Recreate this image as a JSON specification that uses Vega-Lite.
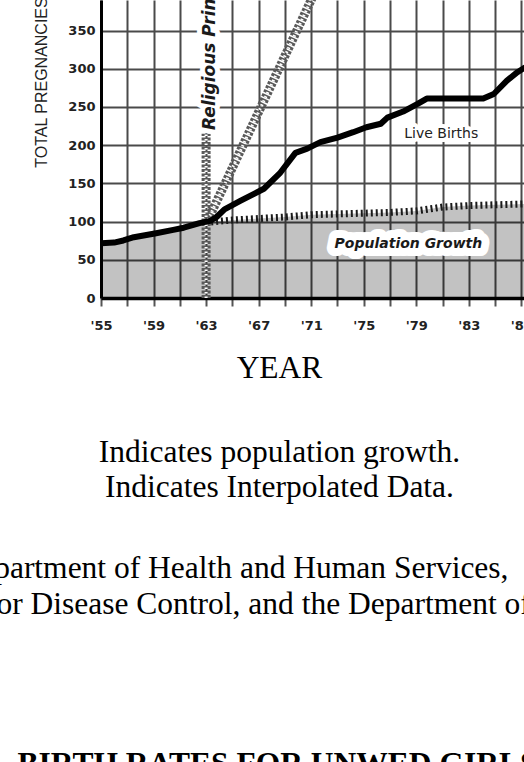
{
  "$schema": "https://vega.github.io/schema/vega-lite/v6.json",
  "width": 423,
  "height": 298,
  "autosize": {"type": "none"},
  "padding": {"left": 101, "top": 0, "right": 0, "bottom": 464},
  "background": "white",
  "config": {"view": {"stroke": null}},
  "datasets": {
    "births": [
      {"year": 1955.0, "value": 71.5}, {"year": 1956.0, "value": 72.5}, {"year": 1956.7, "value": 75.3},
      {"year": 1957.5, "value": 79.6}, {"year": 1959.2, "value": 84.8}, {"year": 1960.5, "value": 89.2},
      {"year": 1961.3, "value": 92}, {"year": 1962.5, "value": 98}, {"year": 1963.3, "value": 101},
      {"year": 1963.8, "value": 106}, {"year": 1964.4, "value": 116}, {"year": 1965.6, "value": 127},
      {"year": 1966.5, "value": 135}, {"year": 1967.4, "value": 143}, {"year": 1968.6, "value": 163},
      {"year": 1969.8, "value": 190}, {"year": 1970.7, "value": 195.5}, {"year": 1971.7, "value": 204},
      {"year": 1973.0, "value": 210}, {"year": 1974.2, "value": 217}, {"year": 1975.2, "value": 223.5},
      {"year": 1976.3, "value": 228}, {"year": 1976.8, "value": 236}, {"year": 1978.0, "value": 244},
      {"year": 1979.1, "value": 254}, {"year": 1979.8, "value": 261}, {"year": 1984.1, "value": 261},
      {"year": 1984.9, "value": 267}, {"year": 1985.9, "value": 284.5}, {"year": 1986.7, "value": 295.5},
      {"year": 1987.3, "value": 302}
    ],
    "pop": [
      {"year": 1955.0, "value": 71.5}, {"year": 1956.0, "value": 72.5}, {"year": 1956.7, "value": 75.3},
      {"year": 1957.5, "value": 79.6}, {"year": 1959.2, "value": 84.8}, {"year": 1960.5, "value": 89.2},
      {"year": 1961.3, "value": 92}, {"year": 1962.5, "value": 98}, {"year": 1963.0, "value": 99},
      {"year": 1965.0, "value": 102}, {"year": 1967.0, "value": 104}, {"year": 1969.0, "value": 106},
      {"year": 1971.0, "value": 109}, {"year": 1973.0, "value": 110}, {"year": 1975.0, "value": 111},
      {"year": 1977.0, "value": 112}, {"year": 1979.0, "value": 114}, {"year": 1981.0, "value": 119},
      {"year": 1983.0, "value": 121}, {"year": 1985.0, "value": 122}, {"year": 1987.2, "value": 123}
    ],
    "prayer": [
      {"seg": "vertical", "year": 1963.0, "value": 0}, {"seg": "vertical", "year": 1963.0, "value": 215},
      {"seg": "diagonal", "year": 1963.0, "value": 97}, {"seg": "diagonal", "year": 1971.3, "value": 401}
    ],
    "labels": [
      {"label": "Live Births", "year": 1980.9, "value": 214.6},
      {"label": "Population Growth", "year": 1978.4, "value": 70.7},
      {"label": "Religious Principles Removed", "year": 1963.3, "value": 220}
    ]
  },
  "resolve": {"axis": {"x": "independent"}},
  "layer": [
    {
      "data": {"name": "pop"},
      "mark": {"type": "area", "fill": "#000", "fillOpacity": 0.24},
      "encoding": {
        "x": {
          "field": "year", "type": "quantitative",
          "scale": {"domain": [1955, 1987.2], "nice": false, "zero": false},
          "axis": {
            "orient": "bottom",
            "values": [1955, 1957, 1959, 1961, 1963, 1965, 1967, 1969, 1971, 1973, 1975, 1977, 1979, 1981, 1983, 1985, 1987],
            "format": "d",
            "labelExpr": "(datum.value - 1955) % 4 == 0 ? \"'\" + substring(datum.label, 2) : ''",
            "grid": true, "gridColor": "#4a4a4a", "gridWidth": 2,
            "domainColor": "#000", "domainWidth": 3.5,
            "tickColor": "#555", "tickWidth": 2, "tickSize": 8,
            "labelFont": "DejaVu Sans", "labelFontWeight": "bold", "labelFontSize": 13, "labelColor": "#222",
            "labelPadding": 13, "labelFlush": false, "labelOverlap": false,
            "title": "YEAR", "titleFont": "Liberation Serif", "titleFontSize": 31.5, "titleFontWeight": "normal",
            "titleColor": "#000", "titleX": 178, "titleY": 79, "titleAlign": "center", "titleBaseline": "alphabetic",
            "titleAngle": 0, "titleLimit": 3000
          }
        },
        "y": {
          "field": "value", "type": "quantitative",
          "scale": {"domain": [0, 390], "nice": false},
          "axis": {
            "values": [0, 50, 100, 150, 200, 250, 300, 350],
            "grid": true, "gridColor": "#4a4a4a", "gridWidth": 2,
            "domainColor": "#000", "domainWidth": 3, "ticks": false,
            "labelFont": "DejaVu Sans", "labelFontWeight": "bold", "labelFontSize": 13, "labelColor": "#222",
            "labelPadding": 6,
            "title": "TOTAL PREGNANCIES", "titleFont": "Liberation Sans", "titleFontSize": 16, "titleFontWeight": "normal",
            "titleColor": "#222", "titleAngle": 270, "titleX": -59.5, "titleY": 82, "titleAlign": "center",
            "titleBaseline": "middle", "titleLimit": 3000
          }
        }
      }
    },
    {
      "data": {"name": "pop"},
      "transform": [{"filter": "datum.year >= 1963"}],
      "mark": {"type": "line", "stroke": "#1a1a1a", "strokeWidth": 7, "strokeDash": [2, 3]},
      "encoding": {
        "x": {
          "field": "year", "type": "quantitative",
          "axis": {
            "orient": "bottom", "labels": false, "ticks": false, "domain": false, "grid": false,
            "title": ["Indicates population growth.", "Indicates Interpolated Data."],
            "titleFont": "Liberation Serif", "titleFontSize": 31.5, "titleFontWeight": "normal", "titleColor": "#000",
            "titleX": 178, "titleY": 163, "titleAlign": "center", "titleBaseline": "alphabetic",
            "titleLineHeight": 35, "titleAngle": 0, "titleLimit": 3000
          }
        },
        "y": {"field": "value", "type": "quantitative"}
      }
    },
    {
      "data": {"name": "prayer"},
      "mark": {"type": "line", "stroke": "#5a5a5a", "strokeWidth": 9, "strokeDash": [3, 1.5], "clip": true},
      "encoding": {
        "x": {
          "field": "year", "type": "quantitative",
          "axis": {
            "orient": "bottom", "labels": false, "ticks": false, "domain": false, "grid": false,
            "title": "Department of Health and Human Services,",
            "titleFont": "Liberation Serif", "titleFontSize": 31.5, "titleFontWeight": "normal", "titleColor": "#000",
            "titleX": 407, "titleY": 279, "titleAlign": "right", "titleBaseline": "alphabetic",
            "titleAngle": 0, "titleLimit": 3000
          }
        },
        "y": {"field": "value", "type": "quantitative"},
        "detail": {"field": "seg"}
      }
    },
    {
      "data": {"name": "prayer"},
      "mark": {"type": "line", "stroke": "#fff", "strokeWidth": 3, "strokeDash": [1.5, 3], "clip": true},
      "encoding": {
        "x": {
          "field": "year", "type": "quantitative",
          "axis": {
            "orient": "bottom", "labels": false, "ticks": false, "domain": false, "grid": false,
            "title": "for Disease Control, and the Department of Commerce,",
            "titleFont": "Liberation Serif", "titleFontSize": 31.5, "titleFontWeight": "normal", "titleColor": "#000",
            "titleX": -115.6, "titleY": 315, "titleAlign": "left", "titleBaseline": "alphabetic",
            "titleAngle": 0, "titleLimit": 3000
          }
        },
        "y": {"field": "value", "type": "quantitative"},
        "detail": {"field": "seg"}
      }
    },
    {
      "data": {"name": "births"},
      "mark": {"type": "line", "stroke": "#000", "strokeWidth": 6, "strokeJoin": "round", "clip": true},
      "encoding": {
        "x": {
          "field": "year", "type": "quantitative",
          "axis": {
            "orient": "bottom", "labels": false, "ticks": false, "domain": false, "grid": false,
            "title": "BIRTH RATES FOR UNWED GIRLS",
            "titleFont": "Liberation Serif", "titleFontSize": 31.5, "titleFontWeight": "bold", "titleColor": "#000",
            "titleX": 176, "titleY": 475, "titleAlign": "center", "titleBaseline": "alphabetic",
            "titleAngle": 0, "titleLimit": 3000
          }
        },
        "y": {"field": "value", "type": "quantitative"}
      }
    },
    {
      "data": {"name": "labels"},
      "transform": [{"filter": "datum.label == 'Live Births'"}],
      "mark": {"type": "text", "font": "DejaVu Sans", "fontSize": 14, "align": "center", "baseline": "middle", "fill": "#fff", "stroke": "#fff", "strokeWidth": 8, "strokeJoin": "round"},
      "encoding": {
        "x": {"field": "year", "type": "quantitative", "axis": null},
        "y": {"field": "value", "type": "quantitative"},
        "text": {"field": "label"}
      }
    },
    {
      "data": {"name": "labels"},
      "transform": [{"filter": "datum.label == 'Live Births'"}],
      "mark": {"type": "text", "font": "DejaVu Sans", "fontSize": 14, "align": "center", "baseline": "middle", "fill": "#222"},
      "encoding": {
        "x": {"field": "year", "type": "quantitative", "axis": null},
        "y": {"field": "value", "type": "quantitative"},
        "text": {"field": "label"}
      }
    },
    {
      "data": {"name": "labels"},
      "transform": [{"filter": "datum.label == 'Population Growth'"}],
      "mark": {"type": "text", "font": "DejaVu Sans", "fontSize": 14, "fontWeight": "bold", "fontStyle": "italic", "align": "center", "baseline": "middle", "fill": "#fff", "stroke": "#fff", "strokeWidth": 16, "strokeJoin": "round"},
      "encoding": {
        "x": {"field": "year", "type": "quantitative", "axis": null},
        "y": {"field": "value", "type": "quantitative"},
        "text": {"field": "label"}
      }
    },
    {
      "data": {"name": "labels"},
      "transform": [{"filter": "datum.label == 'Population Growth'"}],
      "mark": {"type": "text", "font": "DejaVu Sans", "fontSize": 14, "fontWeight": "bold", "fontStyle": "italic", "align": "center", "baseline": "middle", "fill": "#1a1a1a"},
      "encoding": {
        "x": {"field": "year", "type": "quantitative", "axis": null},
        "y": {"field": "value", "type": "quantitative"},
        "text": {"field": "label"}
      }
    },
    {
      "data": {"name": "labels"},
      "transform": [{"filter": "datum.label == 'Religious Principles Removed'"}],
      "mark": {"type": "text", "font": "DejaVu Sans", "fontSize": 17, "fontWeight": "bold", "fontStyle": "italic", "angle": 270, "align": "left", "baseline": "middle", "fill": "#fff", "stroke": "#fff", "strokeWidth": 10, "strokeJoin": "round"},
      "encoding": {
        "x": {"field": "year", "type": "quantitative", "axis": null},
        "y": {"field": "value", "type": "quantitative"},
        "text": {"field": "label"}
      }
    },
    {
      "data": {"name": "labels"},
      "transform": [{"filter": "datum.label == 'Religious Principles Removed'"}],
      "mark": {"type": "text", "font": "DejaVu Sans", "fontSize": 17, "fontWeight": "bold", "fontStyle": "italic", "angle": 270, "align": "left", "baseline": "middle", "fill": "#1a1a1a"},
      "encoding": {
        "x": {"field": "year", "type": "quantitative", "axis": null},
        "y": {"field": "value", "type": "quantitative"},
        "text": {"field": "label"}
      }
    }
  ]
}
